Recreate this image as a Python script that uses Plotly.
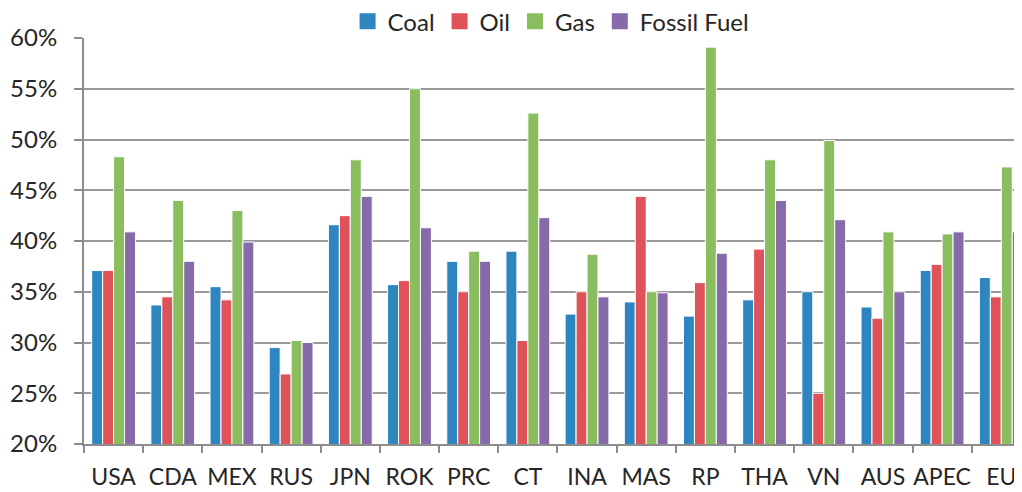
import plotly.graph_objects as go

categories = ["USA", "CDA", "MEX", "RUS", "JPN", "ROK", "PRC", "CT",
              "INA", "MAS", "RP", "THA", "VN", "AUS", "APEC", "EU"]
coal = [37.1, 33.7, 35.5, 29.5, 41.6, 35.7, 38.0, 39.0, 32.8, 34.0, 32.6, 34.2, 35.0, 33.5, 37.1, 36.4]
oil = [37.1, 34.5, 34.2, 26.9, 42.5, 36.1, 35.0, 30.2, 35.0, 44.4, 35.9, 39.2, 25.0, 32.4, 37.7, 34.5]
gas = [48.3, 44.0, 43.0, 30.2, 48.0, 55.0, 39.0, 52.6, 38.7, 35.0, 59.1, 48.0, 49.9, 40.9, 40.7, 47.3]
fossil = [40.9, 38.0, 39.9, 30.0, 44.4, 41.3, 38.0, 42.3, 34.5, 34.9, 38.8, 44.0, 42.1, 35.0, 40.9, 40.9]

series = [("Coal", coal, "#2E86C1"), ("Oil", oil, "#E0525A"),
          ("Gas", gas, "#8ABD5E"), ("Fossil Fuel", fossil, "#866AAA")]

fig = go.Figure()
for name, vals, col in series:
    fig.add_trace(go.Bar(x=categories, y=vals, name=name, showlegend=False,
                         marker=dict(color=col, line=dict(color="white", width=1))))
# legend entries with larger square swatches
for name, vals, col in series:
    fig.add_trace(go.Scatter(x=[None], y=[None], mode="markers", name=name,
                             marker=dict(symbol="square", size=17, color=col)))

font = "Lato, 'Open Sans', sans-serif"
fig.update_layout(
    width=1014, height=484, autosize=False,
    margin=dict(l=76, r=0, t=30, b=48, autoexpand=False),
    barmode="group", bargap=0.26, bargroupgap=0,
    plot_bgcolor="white", paper_bgcolor="white",
    font=dict(family=font, size=24, color="#262626"),
    legend=dict(orientation="h", x=0.281, xanchor="left", y=1.04, yanchor="middle",
                font=dict(size=24), itemwidth=30, tracegroupgap=0,
                bgcolor="rgba(0,0,0,0)"),
    xaxis=dict(type="category", range=[-0.5, 15.35], showline=True, linecolor="#8c8c8c",
               linewidth=2, ticks="outside", tickson="boundaries", ticklen=7,
               tickcolor="#8c8c8c", tickwidth=2, showgrid=False, tickangle=0,
               automargin=False, tickfont=dict(size=23), ticklabelstandoff=11),
    yaxis=dict(range=[20, 60], dtick=5, ticksuffix="%", showline=True,
               linecolor="#8c8c8c", linewidth=2, ticks="outside", ticklen=8,
               tickcolor="#8c8c8c", tickwidth=2, showgrid=True, gridcolor="#999999",
               gridwidth=1.5, zeroline=False, tickfont=dict(size=24),
               automargin=False, ticklabelstandoff=12),
)
fig.write_html("out.html")
